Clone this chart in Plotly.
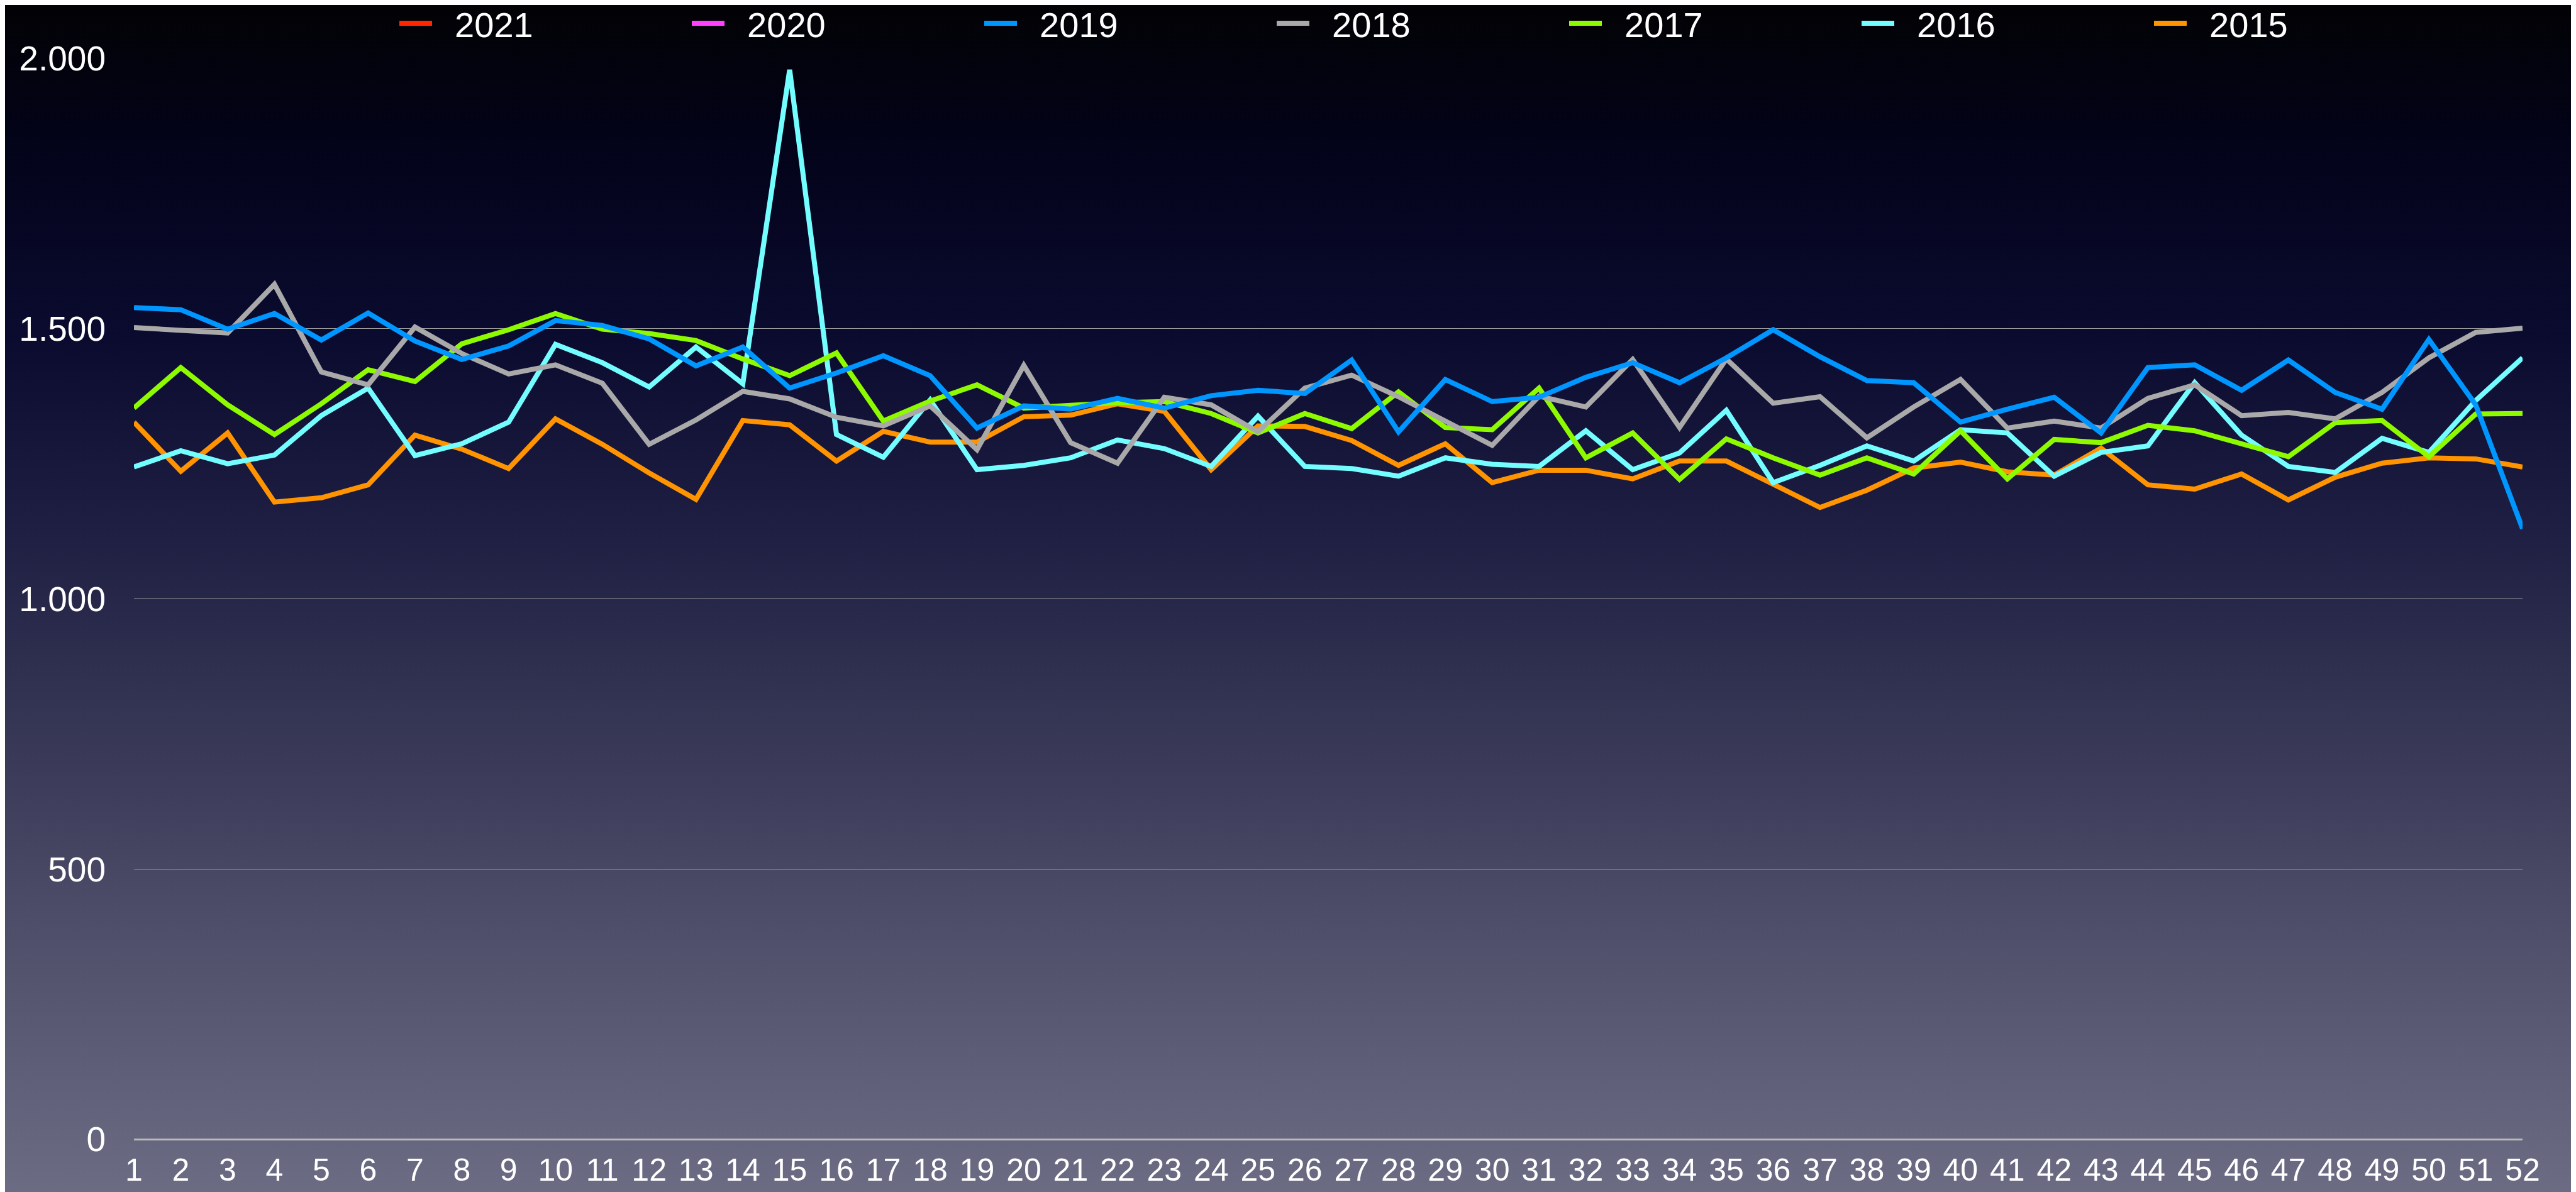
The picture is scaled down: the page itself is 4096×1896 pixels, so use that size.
import base64
import plotly.graph_objects as go

weeks = list(range(1, 53))
week_labels = [str(w) for w in weeks]

y_ticks = [0, 500, 1000, 1500, 2000]
y_tick_labels = ["0", "500", "1.000", "1.500", "2.000"]

series_names = ["2015", "2016", "2017", "2018", "2019", "2020", "2021"]

y2021 = [None] * 52
y2020 = [None] * 52
y2019 = [1539, 1535, 1499, 1528, 1479, 1529, 1477, 1443, 1468, 1515,
         1506, 1481, 1431, 1466, 1390, 1418, 1450, 1413, 1316, 1357,
         1351, 1371, 1353, 1376, 1386, 1380, 1442, 1309, 1406, 1365,
         1373, 1410, 1437, 1400, 1446, 1498, 1448, 1404, 1400, 1327,
         1351, 1373, 1307, 1428, 1433, 1386, 1442, 1382, 1351, 1480,
         1359, 1130]
y2018 = [1502, 1498, 1492, 1582, 1420, 1396, 1503, 1454, 1416, 1433,
         1399, 1286, 1331, 1384, 1370, 1336, 1320, 1357, 1276, 1432,
         1289, 1251, 1373, 1359, 1309, 1390, 1414, 1374, 1329, 1284,
         1375, 1355, 1443, 1317, 1444, 1362, 1374, 1298, 1355, 1406,
         1316, 1329, 1316, 1371, 1396, 1339, 1345, 1333, 1382, 1446,
         1493, 1501]
y2017 = [1353, 1428, 1359, 1304, 1361, 1424, 1402, 1472, 1498, 1528,
         1499, 1491, 1478, 1444, 1413, 1455, 1329, 1366, 1396, 1353,
         1358, 1363, 1365, 1343, 1307, 1343, 1315, 1383, 1317, 1313,
         1390, 1261, 1307, 1221, 1296, 1261, 1229, 1261, 1231, 1311,
         1222, 1295, 1289, 1321, 1311, 1287, 1263, 1326, 1330, 1263,
         1342, 1343]
y2016 = [1244, 1274, 1250, 1266, 1339, 1390, 1265, 1287, 1327, 1471,
         1437, 1392, 1466, 1398, 1979, 1304, 1262, 1368, 1239, 1247,
         1261, 1294, 1278, 1245, 1338, 1245, 1241, 1227, 1261, 1249,
         1245, 1311, 1239, 1270, 1349, 1215, 1247, 1283, 1255, 1313,
         1307, 1227, 1271, 1283, 1400, 1303, 1245, 1234, 1297, 1271,
         1367, 1446]
y2015 = [1327, 1236, 1307, 1179, 1187, 1211, 1303, 1277, 1241, 1333,
         1286, 1233, 1184, 1330, 1322, 1255, 1310, 1290, 1290, 1337,
         1340, 1361, 1347, 1239, 1320, 1319, 1293, 1247, 1287, 1215,
         1238, 1238, 1222, 1255, 1255, 1211, 1169, 1201, 1242, 1253,
         1235, 1229, 1279, 1211, 1203, 1231, 1183, 1225, 1251, 1261,
         1259, 1244]

series_values = [y2015, y2016, y2017, y2018, y2019, y2020, y2021]
series_colors = ["#ff9300", "#73fdff", "#8efa00", "#a9a9a9", "#0096ff", "#ff40ff", "#ff2600"]

W, H = 4096, 1896
ML, MR, MT, MB = 205, 93, 85, 92
PW, PH = W - ML - MR, H - MT - MB

FONT = "Liberation Sans, Arial, Helvetica, sans-serif"
PAD = "\u00a0\u00a0"  # gap between legend swatch and label

fig = go.Figure()
for name, vals, col in zip(series_names, series_values, series_colors):
    fig.add_trace(go.Scatter(
        x=weeks, y=vals, name=PAD + name, mode="lines",
        line=dict(color=col, width=8), connectgaps=False,
    ))

stops = [(0.0, "#020205"), (0.12, "#03031a"), (0.28, "#0b0b30"), (0.45, "#202044"),
         (0.6, "#353554"), (0.75, "#4b4b67"), (0.9, "#5f5f79"), (1.0, "#6c6c84")]
stop_xml = "".join(f'<stop offset="{o}" stop-color="{c}"/>' for o, c in stops)
svg = ('<svg xmlns="http://www.w3.org/2000/svg" width="100" height="100" preserveAspectRatio="none">'
       '<defs><linearGradient id="g" x1="0" y1="0" x2="0" y2="1">' + stop_xml +
       '</linearGradient></defs><rect width="100" height="100" fill="url(#g)"/></svg>')
src = "data:image/svg+xml;base64," + base64.b64encode(svg.encode()).decode()

fig.add_layout_image(dict(
    source=src, xref="paper", yref="paper",
    x=-ML / PW, y=1 + MT / PH, sizex=W / PW, sizey=H / PH,
    xanchor="left", yanchor="top", sizing="stretch", layer="below",
))

fig.update_layout(
    width=W, height=H, autosize=False,
    margin=dict(l=ML, r=MR, t=MT, b=MB, pad=0, autoexpand=False),
    paper_bgcolor="#000000", plot_bgcolor="rgba(0,0,0,0)",
    font=dict(family=FONT, size=54, color="#ffffff"),
    showlegend=True,
    legend=dict(
        orientation="h", traceorder="reversed",
        x=(622 - ML) / PW, xanchor="left",
        y=1 + (MT - 29) / PH, yanchor="middle",
        entrywidth=398, entrywidthmode="pixels",
        itemwidth=52, font=dict(size=56, color="#ffffff"),
        bgcolor="rgba(0,0,0,0)",
    ),
    xaxis=dict(
        range=[1, 52], tickmode="array", tickvals=weeks, ticktext=week_labels,
        showgrid=False, zeroline=False, showline=False, ticks="",
        ticklabelstandoff=15, tickfont=dict(size=50, color="#ffffff"),
        fixedrange=True,
    ),
    yaxis=dict(
        range=[0, 2000], tickmode="array", tickvals=y_ticks, ticktext=y_tick_labels,
        showgrid=True, gridcolor="#9a9a9a", gridwidth=1.2,
        zeroline=True, zerolinecolor="#b8b8b8", zerolinewidth=2.5,
        showline=False, ticks="", ticklabelstandoff=44,
        tickfont=dict(size=55, color="#ffffff"), fixedrange=True,
    ),
)

fig.write_html("out.html")
